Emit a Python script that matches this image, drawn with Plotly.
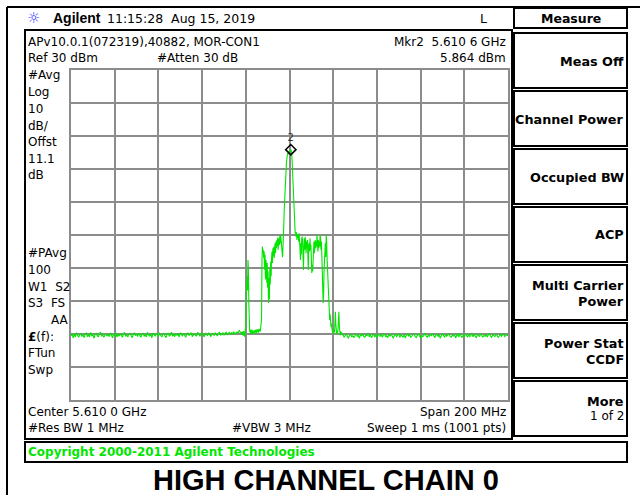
import numpy as np
import plotly.graph_objects as go

W, H = 640, 495

# ---- trace data (dBm), swept 5.51-5.71 GHz ----
# left noise floor, 0.5 MHz spacing from 5510.0 MHz
left_start, left_step = 5510.0, 0.5
left_dbm = [
    -50.6, -49.8, -51.2, -50.1, -50.9, -49.6, -50.4, -51.0, -50.2, -49.9, -50.7, -50.3,
    -51.1, -50.0, -49.7, -50.8, -50.3, -50.9, -49.5, -50.6, -50.2, -51.3, -50.1, -49.8,
    -50.5, -50.9, -50.0, -49.4, -50.7, -50.2, -51.0, -50.4, -49.9, -50.6, -50.1, -50.8,
    -49.7, -50.3, -51.2, -50.0, -50.5, -49.6, -50.9, -50.2, -50.7, -49.8, -50.4, -51.0,
    -50.1, -49.5, -50.6, -50.3, -50.9, -50.0, -49.8, -50.7, -51.1, -50.2, -49.6, -50.5,
    -50.0, -50.8, -49.9, -50.4, -51.0, -50.1, -49.7, -50.6, -50.3, -50.9, -49.5, -50.2,
    -50.7, -50.0, -51.2, -49.8, -50.4, -50.6, -49.9, -50.1, -50.8, -49.6, -50.3, -50.9,
    -50.2, -49.7, -50.5, -51.1, -50.0, -49.8, -50.6, -50.3, -49.4, -50.7, -50.1, -50.8,
    -49.9, -50.4, -50.0, -50.9, -49.6, -50.2, -50.7, -49.8, -50.3, -51.0, -50.1, -49.7,
    -50.5, -50.0, -49.6, -50.8, -50.2, -49.9, -50.4, -50.6, -49.5, -50.1, -50.7, -50.0,
    -49.8, -50.3, -50.9, -49.7, -50.0, -50.5, -49.6, -50.2, -50.8, -49.9, -50.1, -50.4,
    -49.6, -50.0, -50.6, -49.8, -49.5, -50.3, -50.1, -49.7, -50.4, -49.9, -49.4, -50.2,
    -49.8, -49.5, -50.1, -49.6, -49.9, -49.3, -50.0, -49.7, -49.4, -49.8, -48.9, -49.5,
]

# occupied band, 0.2 MHz spacing from 5588.0 MHz
sig_start, sig_step = 5588.0, 0.2
sig_dbm = [
    -49.6, -50.2, -49.3, -49.9, -50.5, -49.1, -49.7, -50.8, -49.4, -50.0,
    -47.5, -37.6, -34.0, -32.5, -36.8, -27.6, -30.5, -41.0, -48.6, -49.4,
    -49.0, -49.8, -48.6, -49.5, -50.1, -49.2, -48.8, -49.7, -49.3, -50.0,
    -48.9, -49.6, -49.1, -48.7, -49.8, -49.2, -48.5, -49.4, -48.8, -49.6,
    -48.4, -49.1, -48.6, -49.3, -48.2, -47.0, -45.5, -28.0, -23.5, -25.5,
    -24.5, -27.0, -25.0, -30.5, -26.0, -33.5, -27.5, -29.0, -34.5, -28.5,
    -36.0, -31.0, -40.6, -33.0, -39.5, -30.0, -35.0, -28.0, -32.5, -27.0,
    -25.0, -28.5, -24.0, -26.5, -23.6, -27.0, -24.5, -22.5, -25.5, -22.0,
    -24.0, -21.5, -23.5, -20.8, -24.5, -22.0, -21.0, -23.0, -20.0, -22.5,
    -20.2, -23.0, -21.5, -25.0, -26.7, -24.0, -22.0, -17.0, -12.0, -8.0,
    -5.5, -2.5, 0.0, 1.8, 3.2, 4.0, 4.8, 4.4, 5.0, 5.3,
    5.0, 5.5, 5.7, 5.864, 5.6, 4.8, 2.5, -0.5, -4.5, -8.5,
    -12.5, -15.5, -18.0, -19.5, -19.0, -20.5, -19.2, -21.5, -19.8, -20.8,
    -20.0, -22.0, -19.5, -21.0, -24.0, -27.6, -22.5, -26.0, -21.0, -20.5,
    -22.0, -25.0, -30.6, -23.5, -21.0, -24.5, -20.6, -23.0, -25.5, -22.0,
    -24.0, -21.5, -26.0, -30.6, -23.0, -22.5, -25.0, -21.0, -24.5, -23.0,
    -27.0, -31.5, -29.0, -31.0, -26.0, -24.5, -22.0, -25.5, -23.0, -21.5,
    -24.0, -22.0, -23.5, -20.0, -22.5, -25.0, -21.5, -24.0, -22.0, -23.5,
    -20.0, -21.0, -24.5, -22.0, -26.0, -30.0, -36.0, -40.6, -38.0, -31.0,
    -27.0, -24.0, -22.5, -26.7, -20.0, -22.0, -27.0, -31.0, -34.0, -35.8,
    -40.0, -43.5, -45.8, -44.0, -46.5, -47.9, -46.8, -48.5, -49.2, -48.6,
    -49.7, -50.2, -48.8, -49.5, -46.5, -43.3, -47.0, -49.3, -50.0, -49.1,
    -49.6, -48.4, -46.0, -43.3, -47.5, -49.8, -50.4, -49.2, -50.0, -49.5,
    -50.1,
]

# right noise floor, 0.5 MHz spacing from 5634.5 MHz
right_start, right_step = 5634.5, 0.5
right_dbm = [
    -50.3, -51.0, -50.6, -49.9, -50.8, -51.2, -50.4, -50.0, -50.9, -50.5, -51.1, -50.2,
    -49.8, -50.7, -50.4, -51.3, -50.1, -50.6, -49.9, -50.8, -51.0, -50.3, -50.5, -49.7,
    -50.9, -50.2, -51.1, -50.6, -50.0, -50.8, -50.4, -51.2, -49.9, -50.5, -50.7, -50.1,
    -51.0, -50.3, -49.8, -50.9, -50.5, -51.1, -50.2, -50.7, -50.0, -50.6, -51.3, -50.4,
    -50.1, -50.8, -50.5, -49.9, -51.0, -50.3, -50.6, -50.9, -50.2, -51.2, -50.4, -49.8,
    -50.7, -50.1, -51.0, -50.5, -50.3, -49.9, -50.8, -51.1, -50.4, -50.0, -50.6, -51.2,
    -50.2, -50.9, -50.4, -49.7, -50.6, -51.0, -50.3, -50.8, -50.1, -50.5, -49.9, -50.7,
    -51.1, -50.4, -50.0, -50.8, -50.2, -51.3, -50.6, -49.8, -50.5, -50.9, -50.1, -50.7,
    -50.3, -49.9, -50.8, -51.0, -50.4, -50.6, -50.0, -51.2, -50.5, -50.2, -50.9, -49.8,
    -50.6, -51.1, -50.3, -50.7, -49.9, -50.4, -51.0, -50.1, -50.8, -50.5, -49.7, -50.9,
    -50.2, -50.6, -51.2, -50.0, -50.5, -50.8, -49.9, -50.3, -51.0, -50.4, -50.7, -50.1,
    -50.9, -50.3, -49.8, -50.6, -51.1, -50.2, -50.5, -50.8, -50.0, -50.4, -51.0, -50.6,
    -50.1, -50.7, -50.3, -49.9, -50.8, -50.4, -50.2, -50.6,
]

# marker 2
mkr_freq = 5610.6   # MHz
mkr_dbm = 5.864

# display settings
f_start, f_stop = 5510.0, 5710.0
ref_level, db_per_div = 30.0, 10.0

def seg(start, step, vals):
    return start + step * np.arange(len(vals))

freq = np.concatenate([seg(left_start, left_step, left_dbm),
                       seg(sig_start, sig_step, sig_dbm),
                       seg(right_start, right_step, right_dbm)])
dbm = np.concatenate([left_dbm, sig_dbm, right_dbm])

fig = go.Figure()
fig.add_trace(go.Scatter(x=freq, y=dbm, mode="lines",
                         line=dict(color="#00e600", width=1.1), hoverinfo="skip"))
fig.add_trace(go.Scatter(x=[mkr_freq], y=[mkr_dbm], mode="markers+text",
                         marker=dict(symbol="diamond-open", size=8, color="black",
                                     line=dict(width=1.5, color="black")),
                         text=["2"], textposition="top center",
                         textfont=dict(family="DejaVu Sans", size=10, color="#333")))

# pixel helpers (page coordinates -> paper)
def px(x):
    return x / W

def py(y):
    return 1 - y / H

shapes = []

def box(x0, y0, x1, y1, width=2, color="black"):
    shapes.append(dict(type="rect", xref="paper", yref="paper",
                       x0=px(x0), x1=px(x1), y0=py(y1), y1=py(y0),
                       line=dict(color=color, width=width)))

def hline(x0, x1, y, width=2):
    shapes.append(dict(type="line", xref="paper", yref="paper",
                       x0=px(x0), x1=px(x1), y0=py(y), y1=py(y),
                       line=dict(color="black", width=width)))

def vline(x, y0, y1, width=2):
    shapes.append(dict(type="line", xref="paper", yref="paper",
                       x0=px(x), x1=px(x), y0=py(y0), y1=py(y1),
                       line=dict(color="black", width=width)))

# outer frame edges
hline(7, 640, 7, 2)
vline(7, 7, 495, 2)
# main screen area
box(25, 30, 512, 439)
# softkey panel
box(514, 8, 627, 28)
key_tops = [33, 91, 149, 207, 265, 323, 381]
for t in key_tops:
    box(514, t, 627, t + 55)
# status line
box(25, 442, 627, 462)

ann = []

def txt(x, y, s, anchor="left", size=12, family="DejaVu Sans", color="black"):
    ann.append(dict(x=px(x), y=py(y), xref="paper", yref="paper", text=s,
                    showarrow=False, xanchor=anchor, yanchor="middle",
                    borderpad=0,
                    font=dict(family=family, size=size, color=color)))

# header
txt(26, 18, "☼", size=15, color="#2f3cff")
txt(52, 18, "<b>Agilent</b>", size=14, family="Liberation Sans")
txt(106, 18, "11:15:28  Aug 15, 2019", size=12.5)
txt(483, 18, "L", anchor="center", size=12.5)
txt(571, 18, "<b>Measure</b>", anchor="center", size=12.5)

# top annotation rows
txt(27, 42, "APv10.0.1(072319),40882, MOR-CON1")
txt(27, 58, "Ref 30 dBm")
txt(156, 58, "#Atten 30 dB")
txt(507, 42, "Mkr2  5.610 6 GHz", anchor="right")
txt(507, 58, "5.864 dBm", anchor="right")

# left annotation column
left_col = [(75, "#Avg"), (92, "Log"), (109, "10"), (126, "dB/"), (142, "Offst"),
            (159, "11.1"), (175, "dB"), (253, "#PAvg"), (270, "100"),
            (287, "W1  S2"), (303, "S3  FS"), (337, "<b>£</b>(f):"),
            (353, "FTun"), (370, "Swp")]
for yy, s in left_col:
    txt(27, yy, s)
txt(70, 320, "AA", anchor="right")

# bottom annotation rows
txt(27, 412, "Center 5.610 0 GHz")
txt(27, 428, "#Res BW 1 MHz")
txt(231, 428, "#VBW 3 MHz")
txt(507, 412, "Span 200 MHz", anchor="right")
txt(507, 428, "Sweep 1 ms (1001 pts)", anchor="right")

# status line
txt(27, 452, "<b>Copyright 2000-2011 Agilent Technologies</b>", color="#00e600")

# softkeys
key_size = 12.8
keys = [["Meas Off"], ["Channel Power"], ["Occupied BW"], ["ACP"],
        ["Multi Carrier", "Power"], ["Power Stat", "CCDF"]]
for t, lines in zip(key_tops, keys):
    c = t + 28
    if len(lines) == 1:
        txt(625, c, "<b>%s</b>" % lines[0], anchor="right", size=key_size)
    else:
        txt(625, c - 8, "<b>%s</b>" % lines[0], anchor="right", size=key_size)
        txt(625, c + 8, "<b>%s</b>" % lines[1], anchor="right", size=key_size)
txt(625, key_tops[-1] + 20, "<b>More</b>", anchor="right", size=key_size)
txt(625, key_tops[-1] + 35, "1 of 2", anchor="right")

# caption
txt(326, 480, "<b>HIGH CHANNEL CHAIN 0</b>", anchor="center", size=29,
    family="Liberation Sans")

grid_col = "#8c8c8c"
fig.update_layout(
    width=W, height=H,
    margin=dict(l=0, r=0, t=0, b=0),
    paper_bgcolor="white", plot_bgcolor="white",
    showlegend=False,
    shapes=shapes, annotations=ann,
    xaxis=dict(domain=[px(71), px(508)], range=[f_start, f_stop],
               tick0=f_start, dtick=(f_stop - f_start) / 10,
               showticklabels=False, ticks="", showgrid=True,
               gridcolor=grid_col, gridwidth=1.5, zeroline=False,
               showline=True, mirror=True, linecolor=grid_col, linewidth=2,
               fixedrange=True),
    yaxis=dict(domain=[py(400), py(70)],
               range=[ref_level - 10 * db_per_div, ref_level],
               tick0=ref_level, dtick=db_per_div,
               showticklabels=False, ticks="", showgrid=True,
               gridcolor=grid_col, gridwidth=1.5, zeroline=False,
               showline=True, mirror=True, linecolor=grid_col, linewidth=2,
               fixedrange=True),
)

fig.write_html("out.html")
